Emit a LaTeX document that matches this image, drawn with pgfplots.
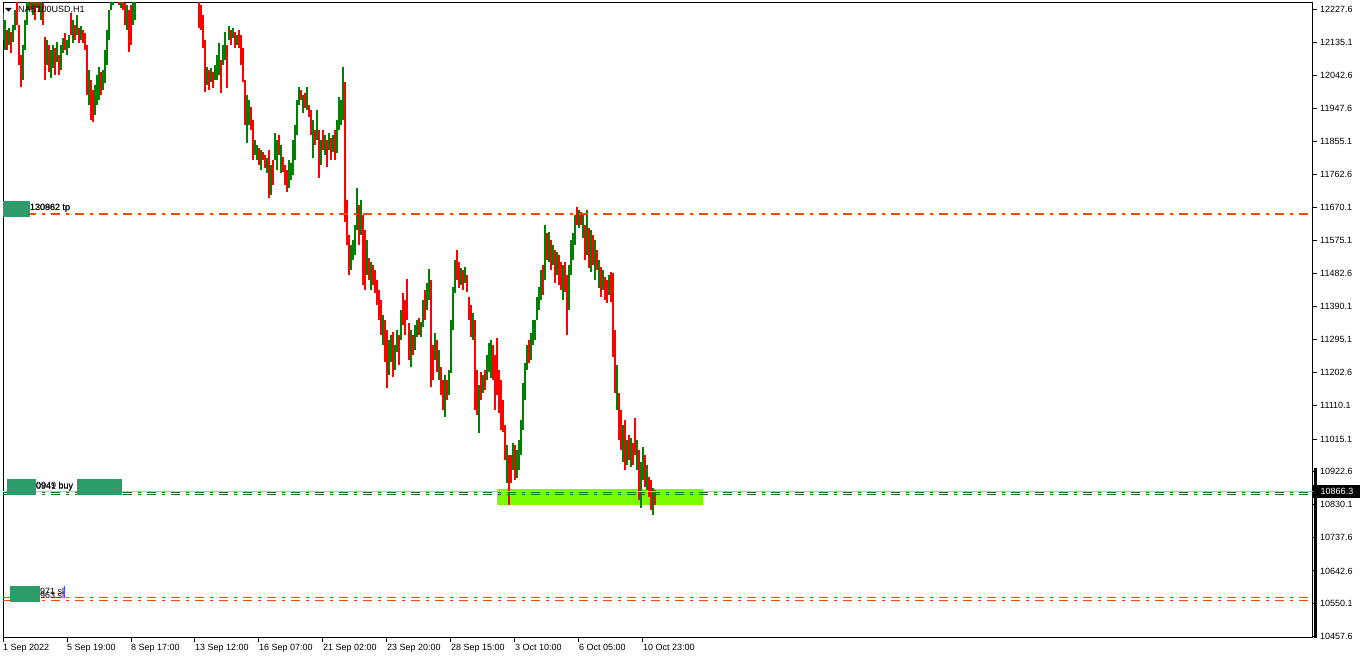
\documentclass[border=0pt]{standalone}
\usepackage{pgfplots}
\pgfplotsset{compat=1.18}
\usepackage{pgfplotstable}
\usepackage{fontspec}
\setmainfont{Liberation Sans}
\definecolor{candleup}{RGB}{0,128,0}
\definecolor{candledn}{RGB}{255,0,0}
\definecolor{orred}{RGB}{255,69,0}
\definecolor{boxgreen}{RGB}{46,155,106}
\definecolor{lawn}{RGB}{124,252,0}
\definecolor{bidgrey}{RGB}{192,192,192}

% x = bar index (H1), l = low, h = high, c = 1 up (green) / 0 down (red)
\pgfplotstableread{
x l h c
0 12142 12218 0
1 12114 12199 1
2 12114 12170 0
3 12128 12176 1
4 12105 12165 0
5 12136 12184 1
6 12170 12227 1
7 12184 12255 0
8 12071 12184 0
9 12009 12100 0
10 12029 12128 1
11 12114 12199 1
12 12184 12283 1
13 12227 12297 1
14 12227 12297 0
15 12213 12269 1
16 12199 12255 0
17 12232 12283 1
18 12221 12269 0
19 12199 12255 1
20 12184 12247 0
21 12029 12151 0
22 12071 12142 1
23 12052 12128 0
24 12035 12114 1
25 12063 12128 1
26 12043 12119 0
27 12080 12136 1
28 12043 12100 0
29 12057 12128 1
30 12105 12148 1
31 12114 12162 0
32 12100 12142 1
33 12119 12156 1
34 12156 12218 0
35 12134 12199 1
36 12142 12184 0
37 12156 12213 1
38 12134 12176 0
39 12142 12182 1
40 12134 12170 0
41 12114 12162 0
42 11987 12128 0
43 11959 12057 1
44 11916 12029 0
45 11911 12001 0
46 11930 12015 1
47 11959 12043 1
48 11973 12066 1
49 11987 12052 0
50 12001 12057 1
51 12021 12114 1
52 12071 12170 1
53 12142 12227 1
54 12227 12283 1
55 12241 12311 1
56 12269 12340 0
57 12255 12326 1
58 12241 12311 0
59 12232 12297 1
60 12227 12283 0
61 12184 12247 0
62 12170 12241 1
63 12108 12227 0
64 12128 12241 0
65 12184 12255 1
66 12199 12283 1
98 12176 12255 0
99 12170 12241 0
100 12119 12213 0
101 11995 12142 0
102 12015 12066 1
103 12001 12057 0
104 12023 12063 1
105 12007 12052 0
106 12029 12071 1
107 12029 12100 1
108 12043 12134 1
109 11992 12086 0
110 12071 12128 1
111 12086 12165 1
112 12007 12128 0
113 12142 12182 1
114 12128 12170 0
115 12148 12176 1
116 12119 12165 0
117 12128 12156 1
118 12119 12170 0
119 12071 12156 0
120 12023 12119 0
121 11902 12029 0
122 11851 11987 1
123 11902 11973 1
124 11888 11953 0
125 11803 11916 0
126 11817 11860 1
127 11803 11846 1
128 11789 11837 0
129 11775 11831 1
130 11803 11826 0
131 11781 11817 0
132 11766 11809 1
133 11696 11831 0
134 11704 11789 1
135 11733 11803 0
136 11803 11879 1
137 11775 11860 1
138 11817 11874 0
139 11766 11846 1
140 11769 11812 0
141 11733 11789 0
142 11713 11775 0
143 11724 11803 1
144 11747 11795 1
145 11761 11860 1
146 11803 11902 1
147 11874 11973 1
148 11959 12009 1
149 11973 12001 0
150 11936 11987 1
151 11950 11992 0
152 11944 12009 1
153 11925 11959 0
154 11874 11944 0
155 11809 11916 1
156 11846 11888 0
157 11860 11944 1
158 11752 11888 0
159 11789 11860 1
160 11831 11888 0
161 11817 11874 1
162 11783 11860 0
163 11831 11879 1
164 11803 11865 0
165 11826 11874 1
166 11803 11888 0
167 11823 11916 1
168 11888 11981 1
169 11902 11973 1
170 11916 12066 1
171 11628 12023 0
172 11563 11690 0
173 11478 11591 0
174 11492 11563 1
175 11521 11577 1
176 11535 11620 1
177 11605 11724 1
178 11563 11676 0
179 11591 11690 1
180 11450 11648 0
181 11436 11605 0
182 11478 11577 1
183 11464 11526 0
184 11436 11515 1
185 11450 11507 0
186 11428 11493 0
187 11394 11464 0
188 11351 11436 0
189 11309 11408 0
190 11281 11365 1
191 11233 11351 0
192 11159 11323 0
193 11196 11295 1
194 11233 11309 1
195 11190 11317 0
196 11210 11281 1
197 11261 11323 1
198 11224 11309 0
199 11295 11380 1
200 11337 11428 0
201 11309 11408 0
202 11351 11467 0
203 11238 11343 0
204 11219 11323 1
205 11252 11309 0
206 11267 11337 1
207 11303 11351 1
208 11309 11357 0
209 11303 11346 1
210 11332 11408 1
211 11351 11436 0
212 11380 11456 1
213 11408 11495 1
214 11162 11464 0
215 11182 11281 0
216 11238 11315 1
217 11205 11295 0
218 11182 11267 1
219 11140 11219 0
220 11097 11182 0
221 11077 11196 1
222 11125 11182 0
223 11140 11210 1
224 11202 11351 1
225 11323 11445 1
226 11428 11521 1
227 11464 11549 0
228 11442 11515 0
229 11450 11498 1
230 11436 11493 0
231 11456 11501 1
232 11430 11478 0
233 11351 11416 0
234 11303 11394 0
235 11295 11371 1
236 11097 11351 0
237 11083 11210 0
238 11032 11168 1
239 11125 11205 0
240 11145 11196 1
241 11154 11210 0
242 11182 11253 1
243 11205 11286 1
244 11188 11295 1
245 11182 11281 0
246 11097 11253 0
247 11140 11301 0
248 11089 11210 0
249 11041 11182 0
250 11035 11125 0
251 10956 11055 0
252 10891 10998 1
253 10829 10970 0
254 10891 10970 0
255 10928 11004 1
256 10900 10998 0
257 10905 10984 1
258 10928 11012 1
259 10970 11069 1
260 11041 11173 1
261 11125 11230 1
262 11210 11281 1
263 11230 11295 0
264 11238 11315 1
265 11281 11351 1
266 11295 11351 1
267 11351 11416 1
268 11380 11445 1
269 11408 11493 1
270 11422 11507 0
271 11464 11620 1
272 11521 11597 0
273 11515 11600 1
274 11493 11577 0
275 11507 11563 1
276 11456 11549 0
277 11478 11543 1
278 11450 11535 0
279 11436 11515 0
280 11408 11507 1
281 11430 11515 0
282 11309 11478 0
283 11380 11507 1
284 11478 11577 1
285 11521 11597 1
286 11563 11648 1
287 11620 11670 0
288 11611 11662 1
289 11620 11656 0
290 11583 11653 1
291 11521 11620 0
292 11535 11662 1
293 11498 11611 0
294 11487 11605 1
295 11507 11591 0
296 11464 11577 1
297 11493 11549 0
298 11442 11521 1
299 11416 11501 0
300 11436 11493 1
301 11408 11473 0
302 11399 11464 0
303 11422 11478 1
304 11402 11487 0
305 11247 11484 0
306 11145 11323 0
307 11097 11224 1
308 11012 11145 0
309 10984 11097 0
310 10950 11055 1
311 10928 11069 0
312 10942 11012 1
313 10956 11026 0
314 10936 11018 1
315 10942 11004 0
316 10970 11075 0
317 10928 11012 1
318 10843 10984 0
319 10820 10950 1
320 10900 10993 1
321 10880 10970 0
322 10871 10942 1
323 10851 10908 0
324 10815 10900 0
325 10801 10877 1
326 10829 10871 0
}\candles

\begin{document}
\begin{tikzpicture}
\path[use as bounding box] (0pt,0pt) rectangle (1362pt,660pt);
\begin{axis}[
  at={(3pt,22pt)}, anchor=south west,
  scale only axis, width=1310pt, height=635pt,
  xmin=0, xmax=655, ymin=10453.3, ymax=12246.5,
  clip mode=individual,
  axis line style={line width=1pt, black},
  tick style={black, line width=1pt},
  major tick length=4pt, tick align=outside,
  xtick pos=left, ytick pos=right, yticklabel pos=right,
  xtick={0,32,64,96,128,160,192,224,256,288,320},
  xticklabels={1 Sep 2022, 5 Sep 19:00, 8 Sep 17:00, 13 Sep 12:00, 16 Sep 07:00, 21 Sep 02:00, 23 Sep 20:00, 28 Sep 15:00, 3 Oct 10:00, 6 Oct 05:00, 10 Oct 23:00},
  ytick={12227.6,12135.1,12042.6,11947.6,11855.1,11762.6,11670.1,11575.1,11482.6,11390.1,11295.1,11202.6,11110.1,11015.1,10922.6,10830.1,10737.6,10642.6,10550.1,10457.6},
  yticklabels={12227.6,12135.1,12042.6,11947.6,11855.1,11762.6,11670.1,11575.1,11482.6,11390.1,11295.1,11202.6,11110.1,11015.1,10922.6,10830.1,10737.6,10642.6,10550.1,10457.6},
  xticklabel style={anchor=north west, inner sep=0pt, xshift=0pt, yshift=-2pt},
  yticklabel style={anchor=west, inner sep=0pt, xshift=3pt},
  every tick label/.append style={font=\fontsize{9}{10}\selectfont},
]
% background rectangle
\addplot[fill=lawn, draw=none, forget plot] coordinates {(247,10829) (350,10829) (350,10874) (247,10874) (247,10829)};

% candles (high-low bars)
\addplot[draw=none, mark=none, forget plot, restrict expr to domain={\thisrow{c}}{0:0},
  error bars/.cd, y dir=plus, y explicit, error mark=none,
  error bar style={line width=1.1pt, draw=candledn, solid}]
  table[x=x, y=l, y error plus expr=\thisrow{h}-\thisrow{l}] {\candles};
\addplot[draw=none, mark=none, forget plot, restrict expr to domain={\thisrow{c}}{1:1},
  error bars/.cd, y dir=plus, y explicit, error mark=none,
  error bar style={line width=1.1pt, draw=candleup, solid}]
  table[x=x, y=l, y error plus expr=\thisrow{h}-\thisrow{l}] {\candles};

% horizontal levels
\addplot[orred, line width=1pt, dash pattern=on 9pt off 6pt on 3pt off 6pt, forget plot] coordinates {(0,11653) (655,11653)};
\addplot[orred, line width=1pt, dash pattern=on 9pt off 6pt on 3pt off 6pt, forget plot] coordinates {(0,11648) (655,11648)};
\addplot[bidgrey, line width=1pt, forget plot] coordinates {(0,10866.3) (655,10866.3)};
\addplot[candleup, line width=1pt, dash pattern=on 9pt off 6pt on 3pt off 6pt, forget plot] coordinates {(0,10863) (655,10863)};
\addplot[candleup, line width=1pt, dash pattern=on 9pt off 6pt on 3pt off 6pt, forget plot] coordinates {(0,10858) (655,10858)};
\addplot[orred, line width=1pt, dash pattern=on 9pt off 6pt on 3pt off 6pt, forget plot] coordinates {(0,10568) (655,10568)};
\addplot[orred, line width=1pt, dash pattern=on 9pt off 6pt on 3pt off 6pt, forget plot] coordinates {(0,10559) (655,10559)};

% level labels
\fill[boxgreen] (axis cs:0,11642) rectangle (axis cs:13.5,11687);
\node[anchor=west, inner sep=0pt, font=\fontsize{9}{10}\selectfont] at (axis cs:13.5,11668) {120962 tp};
\node[anchor=west, inner sep=0pt, font=\fontsize{9}{10}\selectfont] at (axis cs:13.5,11666) {130882 tp};

\fill[boxgreen] (axis cs:2,10857) rectangle (axis cs:16.5,10902);
\fill[boxgreen] (axis cs:37,10857) rectangle (axis cs:59.5,10902);
\node[anchor=west, inner sep=0pt, font=\fontsize{9}{10}\selectfont] at (axis cs:16.5,10881) {0949 buy};
\node[anchor=west, inner sep=0pt, font=\fontsize{9}{10}\selectfont] at (axis cs:16.5,10879) {0941 buy};

\fill[boxgreen] (axis cs:3.5,10555) rectangle (axis cs:18.5,10600);
\node[anchor=west, inner sep=0pt, font=\fontsize{9}{10}\selectfont] at (axis cs:18.5,10584) {971 sl};
\node[anchor=west, inner sep=0pt, font=\fontsize{9}{10}\selectfont] at (axis cs:18.5,10575) {963 sl};
\draw[blue!70, line width=1pt] (axis cs:30.5,10566) -- (axis cs:30.5,10600);

% title
\fill[black] (axis cs:1,12233) -- (axis cs:4.5,12233) -- (axis cs:2.75,12222) -- cycle;
\node[anchor=west, inner sep=0pt, font=\fontsize{9}{10}\selectfont] at (axis cs:7.5,12227) {NAS100USD,H1};

% right side: current price tag and bar
\fill[black] (axis cs:655.5,10453.3) rectangle (axis cs:657,10933);
\fill[black] (axis cs:655,10848.6) rectangle (axis cs:678.5,10885.4);
\node[text=white, inner sep=0pt, font=\fontsize{9}{10}\selectfont] at (axis cs:667,10867) {10866.3};
\end{axis}
\end{tikzpicture}
\end{document}
